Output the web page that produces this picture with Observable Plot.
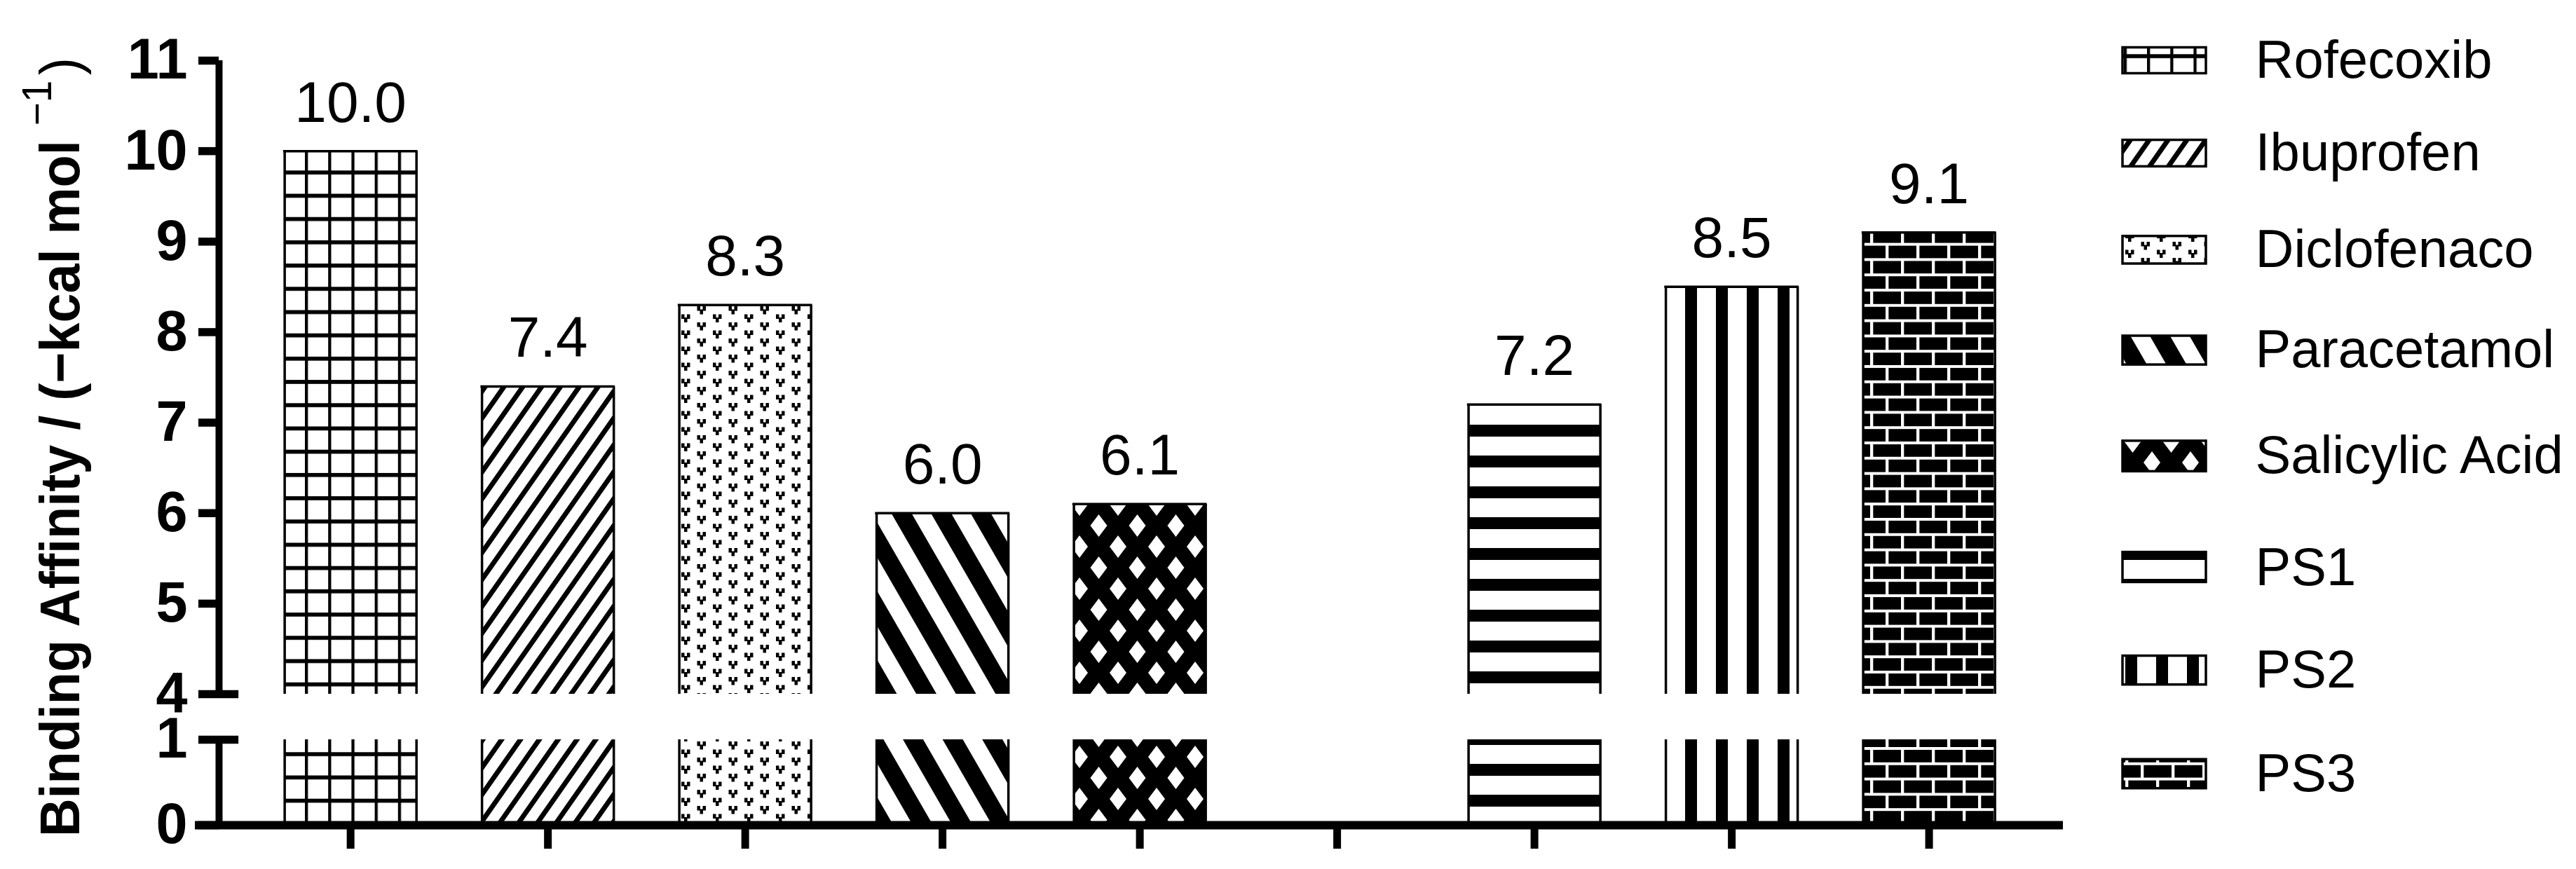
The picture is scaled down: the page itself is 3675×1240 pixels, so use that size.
<!DOCTYPE html>
<html>
<head>
<meta charset="utf-8">
<script src="https://cdn.jsdelivr.net/npm/d3@7"></script>
<script src="https://cdn.jsdelivr.net/npm/@observablehq/plot@0.6"></script>
<style>
  html, body { margin: 0; padding: 0; background: #fff; }
  #wrap { position: relative; width: 3675px; height: 1240px; overflow: hidden; background: #fff;
          font-family: "Liberation Sans", Arial, Helvetica, sans-serif; }
  #wrap > div, #wrap > svg { position: absolute; top: 0; }
  #chart { left: 0; }
  #legend { left: 2960px; }
  #title { left: 0; }
</style>
</head>
<body>
<svg width="0" height="0" style="position:absolute">
  <defs>
    <pattern id="pat-grid" patternUnits="userSpaceOnUse" width="33.2" height="33.2" patternTransform="translate(435,243.3)">
      <rect width="33.2" height="33.2" fill="#fff"/>
      <rect width="4.3" height="33.2" fill="#000"/>
      <rect width="33.2" height="5.7" fill="#000"/>
    </pattern>
    <pattern id="pat-diag" patternUnits="userSpaceOnUse" width="22" height="22" patternTransform="rotate(35)">
      <rect width="22" height="22" fill="#fff"/>
      <rect width="7" height="22" fill="#000"/>
    </pattern>
    <pattern id="pat-ydots" patternUnits="userSpaceOnUse" width="45" height="23">
      <rect width="45" height="23" fill="#fff"/>
      <path fill="#000" d="M4.5,0h4.5v4.5h3.5v-4.5h4.5v6.5h-4v5h-4.5v-5h-4z M27,11.5h4.5v4.5h3.5v-4.5h4.5v6.5h-4v5h-4.5v-5h-4z"/>
    </pattern>
    <pattern id="pat-back" patternUnits="userSpaceOnUse" width="49" height="49" patternTransform="rotate(-30)">
      <rect width="49" height="49" fill="#fff"/>
      <rect width="25" height="49" fill="#000"/>
    </pattern>
    <pattern id="pat-lattice" patternUnits="userSpaceOnUse" width="55" height="60">
      <rect width="55" height="60" fill="#000"/>
      <path fill="#fff" d="M27.5,14L39.5,30L27.5,46L15.5,30Z M0,-16L12,0L0,16L-12,0Z M55,-16L67,0L55,16L43,0Z M0,44L12,60L0,76L-12,60Z M55,44L67,60L55,76L43,60Z"/>
    </pattern>
    <pattern id="pat-hstripe" patternUnits="userSpaceOnUse" width="20" height="44" patternTransform="translate(0,606)">
      <rect width="20" height="44" fill="#fff"/>
      <rect width="20" height="17" fill="#000"/>
    </pattern>
    <pattern id="pat-vstripe" patternUnits="userSpaceOnUse" width="44" height="20" patternTransform="translate(2404,0)">
      <rect width="44" height="20" fill="#fff"/>
      <rect width="17" height="20" fill="#000"/>
    </pattern>
    <pattern id="pat-brick" patternUnits="userSpaceOnUse" width="44" height="43.6" patternTransform="translate(2668,1066)">
      <rect width="44" height="43.6" fill="#000"/>
      <rect width="44" height="4" y="0" fill="#fff"/>
      <rect width="44" height="4" y="21.8" fill="#fff"/>
      <rect x="0" y="4" width="4.3" height="17.8" fill="#fff"/>
      <rect x="22" y="25.8" width="4.3" height="17.8" fill="#fff"/>
    </pattern>
  </defs>
</svg>
<div id="wrap">
  <div id="chart"></div>
  <div id="legend"></div>
</div>
<script>
// ---------------- data ----------------
const categories = ["Rofecoxib", "Ibuprofen", "Diclofenaco", "Paracetamol", "Salicylic Acid", "PS1", "PS2", "PS3"];
const affinities = [10.0, 7.4, 8.3, 6.0, 6.1, 7.2, 8.5, 9.1];
// x slots along the axis (one empty slot between the reference drugs and the PS compounds)
const xSlots = ["Rofecoxib", "Ibuprofen", "Diclofenaco", "Paracetamol", "Salicylic Acid", "", "PS1", "PS2", "PS3"];
const yTicks = [0, 1, 4, 5, 6, 7, 8, 9, 10, 11];
const patternNames = ["grid", "diag", "ydots", "back", "lattice", "hstripe", "vstripe", "brick"];
const yTitle = "Binding Affinity / (\u2212kcal mol ";
const yTitleSup = "\u22121";

// ---------------- build ----------------
const bars = categories.map((name, k) => ({
  name,
  value: affinities[k],
  slot: xSlots.indexOf(name),
  fill: `url(#pat-${patternNames[k]})`
}));

const FONT = '"Liberation Sans", Arial, Helvetica, sans-serif';
const hw = 0.334;          // half bar width in slot units
const x0 = -2 / 3;         // x domain start (where the y axis sits)
const x1 = 8.68;
const lw = 3.5;            // bar outline width

const chart = Plot.plot({
  width: 3675,
  height: 1240,
  marginLeft: 312,
  marginRight: 732,
  marginTop: 86,
  marginBottom: 63,
  x: {type: "linear", domain: [x0, x1]},
  y: {type: "linear", domain: [0, 1, 4, 11], range: [1177, 1055, 990, 86]},
  color: {type: "identity"},
  style: {fontFamily: FONT, background: "white", color: "black", overflow: "visible"},
  marks: [
    // lower and upper pieces of each bar (axis broken between 1 and 4)
    Plot.rectY(bars, {x1: d => d.slot - hw, x2: d => d.slot + hw, y1: 0, y2: 1, fill: "fill"}),
    Plot.rectY(bars, {x1: d => d.slot - hw, x2: d => d.slot + hw, y1: 4, y2: "value", fill: "fill"}),
    // bar outlines (open at the break)
    Plot.ruleX(bars, {x: d => d.slot - hw, y1: 0, y2: 1, strokeWidth: lw}),
    Plot.ruleX(bars, {x: d => d.slot + hw, y1: 0, y2: 1, strokeWidth: lw}),
    Plot.ruleX(bars, {x: d => d.slot - hw, y1: 4, y2: "value", strokeWidth: lw}),
    Plot.ruleX(bars, {x: d => d.slot + hw, y1: 4, y2: "value", strokeWidth: lw}),
    Plot.ruleY(bars, {y: "value", x1: d => d.slot - hw, x2: d => d.slot + hw, strokeWidth: lw, strokeLinecap: "square"}),
    // value labels
    Plot.text(bars, {x: "slot", y: "value", text: d => d.value.toFixed(1), lineAnchor: "bottom", dy: -42, fontSize: 82, fill: "black"}),
    // y axis (broken)
    Plot.axisY({ticks: yTicks, tickSize: 29, tickPadding: 16, fontSize: 81, fontWeight: "bold", strokeWidth: 11.5, label: null}),
    Plot.ruleX([x0], {y1: 4, y2: 11, strokeWidth: 10}),
    Plot.ruleX([x0], {y1: 0, y2: 1, strokeWidth: 10}),
    Plot.ruleY([1, 4], {x1: x0, x2: x0 + 0.1, strokeWidth: 11.5}),
    // x axis
    Plot.axisX({ticks: d3.range(xSlots.length), tickSize: 34, tickFormat: () => "", strokeWidth: 11, label: null}),
    Plot.ruleY([0], {strokeWidth: 12, insetLeft: -34})
  ]
});
document.getElementById("chart").appendChild(chart);

// y-axis title with superscript
const title = d3.create("svg")
  .attr("id", "title")
  .attr("width", 200).attr("height", 1240)
  .style("position", "absolute").style("left", "0px").style("top", "0px");
const t = title.append("text")
  .attr("transform", "translate(113,638) rotate(-90)")
  .attr("text-anchor", "middle")
  .attr("font-family", FONT)
  .attr("font-size", 80)
  .attr("font-weight", "bold")
  .attr("fill", "black")
  .attr("textLength", 1112)
  .attr("lengthAdjust", "spacingAndGlyphs");
t.append("tspan").text(yTitle);
t.append("tspan").attr("font-weight", "normal").attr("font-size", 60).attr("dy", -40).text(yTitleSup);
t.append("tspan").attr("font-weight", "normal").attr("dy", 40).attr("dx", 8).text(")");
document.getElementById("wrap").appendChild(title.node());

// legend drawn with Plot (row spacing as in the original figure)
const legendRows = categories.map((name, k) => ({name, k, fill: bars[k].fill}));
const legend = Plot.plot({
  width: 715,
  height: 1240,
  marginLeft: 68,
  marginRight: 528,
  marginTop: 0,
  marginBottom: 0,
  x: {type: "linear", domain: [0, 1], axis: null},
  y: {type: "linear", domain: d3.range(8), range: [86, 218, 356, 499, 650, 810, 956, 1104], axis: null},
  color: {type: "identity"},
  style: {fontFamily: FONT, background: "transparent", color: "black", overflow: "visible"},
  marks: [
    Plot.rect(legendRows, {x1: 0, x2: 1, y1: d => d.k - 0.14, y2: d => d.k + 0.14, fill: "fill", stroke: "black", strokeWidth: 3.5}),
    Plot.text(legendRows, {x: 1, y: "k", text: "name", textAnchor: "start", dx: 70, fontSize: 76, fill: "black"})
  ]
});
document.getElementById("legend").appendChild(legend);
</script>
</body>
</html>
